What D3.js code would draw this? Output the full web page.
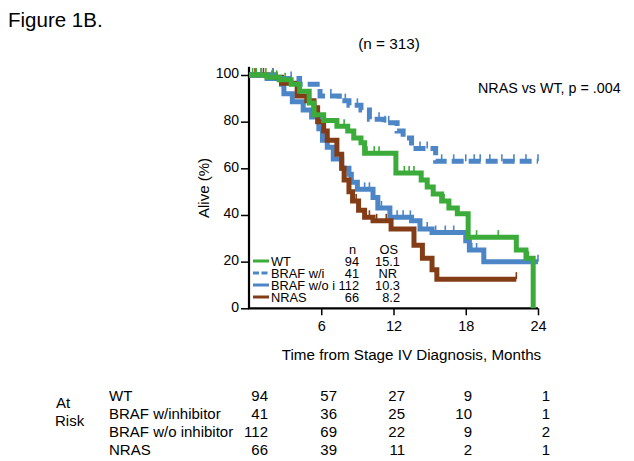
<!DOCTYPE html>
<html><head><meta charset="utf-8">
<script src="https://cdn.jsdelivr.net/npm/d3@7"></script>
<style>body{margin:0;background:#fff}svg{display:block;font-family:"Liberation Sans",Arial,sans-serif}</style>
</head><body><svg id="c" width="634" height="461"></svg>
<script>
// ---- data ----
const seriesNames = ["WT", "BRAF w/i", "BRAF w/o i", "NRAS"];
const riskNames = ["WT", "BRAF w/inhibitor", "BRAF w/o inhibitor", "NRAS"];
const nValues = [94, 41, 112, 66];
const osValues = ["15.1", "NR", "10.3", "8.2"];
const xTicks = [6, 12, 18, 24];
const yTicks = [0, 20, 40, 60, 80, 100];

const wtTime = [0, 1.5, 2.5, 3.5, 4.2, 5.0, 5.4, 6.2, 7.3, 8.2, 8.7, 9.3, 9.6, 12.2, 14.3, 14.8, 15.3, 16.0, 16.6, 17.3, 18.2, 22.2, 23.0, 23.6];
const wtSurv = [100, 99, 98, 96, 93, 88, 83, 80.5, 78, 76, 73, 71, 66.5, 58, 55, 52, 49, 46, 43, 40.5, 30.5, 25, 21.5, 0];
const wtCensor = [0.3, 0.6, 1.0, 1.4, 1.9, 2.3, 3.0, 7.4, 7.9, 9.8, 10.4, 10.8, 12.9, 13.3, 13.7, 16.2, 18.9, 20.7, 23.2];

const brafITime = [0, 2.5, 4.2, 5.9, 7.5, 8.3, 9.3, 10.0, 11.2, 12.3, 12.8, 13.5, 15.5, 24];
const brafISurv = [100, 98.5, 96, 91, 89, 87, 85, 81, 79.5, 76, 73, 68.5, 63, 63];
const brafICensor = [2.0, 3.5, 6.8, 8.0, 9.0, 10.8, 11.3, 11.6, 14.2, 14.8, 16.0, 17.0, 18.0, 18.7, 19.2, 20.0, 21.0, 22.0, 23.0, 24.0];

const brafNTime = [0, 1.5, 2.7, 2.9, 3.6, 4.5, 5.2, 5.8, 6.1, 6.5, 7.0, 7.7, 8.3, 8.5, 9.0, 10.3, 10.7, 11.7, 13.5, 14.2, 15.2, 18.0, 18.3, 19.5, 24];
const brafNSurv = [100, 98.5, 96, 92, 88.5, 85, 82, 77, 72, 69, 64, 60, 57.5, 54, 51, 47.5, 43, 39, 37.5, 34, 32.5, 29, 25, 20, 20];
const brafNCensor = [1.0, 2.0, 9.6, 10.0, 11.0, 12.3, 12.8, 13.4, 14.3, 14.8, 15.5, 16.3, 17.0, 18.5, 18.9, 24.0];

const nrasTime = [0, 2.2, 2.7, 4.0, 4.8, 5.4, 5.7, 6.2, 6.5, 7.3, 7.7, 7.9, 8.3, 8.6, 9.1, 9.6, 10.3, 11.8, 13.7, 14.4, 15.2, 15.6, 22.2];
const nrasSurv = [100, 99, 96.5, 91, 89, 86, 80, 76, 72, 66, 60, 55, 50, 46, 42, 39, 37.5, 34, 27, 21.5, 16.5, 12.5, 12.5];
const nrasCensor = [0.5, 1.2, 2.0, 8.9, 10.0, 10.6, 11.4, 22.2];

const colors = ["#3bab3a", "#4c86c6", "#4c86c6", "#833d16"];
const dashes = [null, "12,5", null, null];
const times = [wtTime, brafITime, brafNTime, nrasTime];
const survs = [wtSurv, brafISurv, brafNSurv, nrasSurv];
const censors = [wtCensor, brafICensor, brafNCensor, nrasCensor];
const atRisk = [[94, 57, 27, 9, 1], [41, 36, 25, 10, 1], [112, 69, 22, 9, 2], [66, 39, 11, 2, 1]];

// ---- layout ----
const svg = d3.select("#c");
const x = d3.scaleLinear().domain([0, 24]).range([249, 538]);
const y = d3.scaleLinear().domain([0, 100]).range([308.3, 75]);

svg.append("text").attr("x", 8).attr("y", 27).attr("font-size", 20.5).text("Figure 1B.");
svg.append("text").attr("x", 389).attr("y", 49).attr("font-size", 15.3).attr("text-anchor", "middle").text("(n = 313)");
svg.append("text").attr("x", 478).attr("y", 93).attr("font-size", 14.3).text("NRAS vs WT, p = .004");

// axes
const yAxis = d3.axisLeft(y).tickValues(yTicks).tickSize(8).tickPadding(2);
const gy = svg.append("g").attr("transform", "translate(249,0)").call(yAxis);
gy.select(".domain").attr("d", `M0,${y(103.5)}V${y(0)}`).attr("stroke-width", 2.2);
gy.selectAll(".tick line").attr("stroke-width", 1.5);
gy.selectAll(".tick text").attr("font-size", 14).attr("dy", "0.2em").attr("font-family", "Liberation Sans, Arial, sans-serif");

const xAxis = d3.axisBottom(x).tickValues(xTicks).tickSize(7).tickPadding(5);
const gx = svg.append("g").attr("transform", `translate(0,${y(0)})`).call(xAxis);
gx.select(".domain").attr("d", `M${x(0) - 1},0H${x(24)}`).attr("stroke-width", 2.2);
gx.selectAll(".tick line").attr("stroke-width", 1.5);
gx.selectAll(".tick text").attr("font-size", 14.5).attr("font-family", "Liberation Sans, Arial, sans-serif");

svg.append("text").attr("transform", "translate(209,188) rotate(-90)").attr("text-anchor", "middle")
  .attr("font-size", 15).text("Alive (%)");
svg.append("text").attr("x", 411.5).attr("y", 360).attr("text-anchor", "middle").attr("font-size", 15.2)
  .text("Time from Stage IV Diagnosis, Months");

// curves
const line = d3.line().curve(d3.curveStepAfter).x(d => x(d[0])).y(d => y(d[1]));
function survAt(ti, si, t) {
  let v = si[0];
  for (let k = 0; k < ti.length; k++) if (ti[k] <= t) v = si[k];
  return v;
}
const order = [2, 3, 1, 0];
order.forEach(i => {
  const pts = times[i].map((t, k) => [t, survs[i][k]]);
  const p = svg.append("path").attr("d", line(pts)).attr("fill", "none")
    .attr("stroke", colors[i]).attr("stroke-width", 5).attr("stroke-linejoin", "miter");
  if (dashes[i]) p.attr("stroke-dasharray", dashes[i]);
  svg.append("g").selectAll("line").data(censors[i]).join("line")
    .attr("x1", d => x(d)).attr("x2", d => x(d))
    .attr("y1", d => y(survAt(times[i], survs[i], d)))
    .attr("y2", d => y(survAt(times[i], survs[i], d)) - 7)
    .attr("stroke", colors[i]).attr("stroke-width", 1.6);
});

// legend
const lg = svg.append("g").attr("font-size", 12.8);
lg.append("text").attr("x", 356).attr("y", 254).attr("text-anchor", "end").text("n");
lg.append("text").attr("x", 398).attr("y", 254).attr("text-anchor", "end").text("OS");
seriesNames.forEach((nm, i) => {
  const yy = 265.5 + i * 12;
  const l = lg.append("line").attr("x1", 253).attr("x2", 269).attr("y1", yy - 4.5).attr("y2", yy - 4.5)
    .attr("stroke", colors[i]).attr("stroke-width", 3);
  if (dashes[i]) l.attr("stroke-dasharray", "6,2.5");
  lg.append("text").attr("x", 271).attr("y", yy).text(nm);
  lg.append("text").attr("x", 359).attr("y", yy).attr("text-anchor", "end").text(nValues[i]);
  lg.append("text").attr("x", osValues[i] === "NR" ? 397 : 400).attr("y", yy).attr("text-anchor", "end").text(osValues[i]);
});

// at risk table
const rt = svg.append("g").attr("font-size", 15);
rt.append("text").attr("x", 56).attr("y", 408).text("At");
rt.append("text").attr("x", 55).attr("y", 426).text("Risk");
const colRight = [268, 337, 405, 472, 550];
riskNames.forEach((nm, i) => {
  const yy = 401 + i * 18;
  rt.append("text").attr("x", 109).attr("y", yy).text(nm);
  atRisk[i].forEach((v, j) => {
    rt.append("text").attr("x", colRight[j]).attr("y", yy).attr("text-anchor", "end").text(v);
  });
});
</script></body></html>
